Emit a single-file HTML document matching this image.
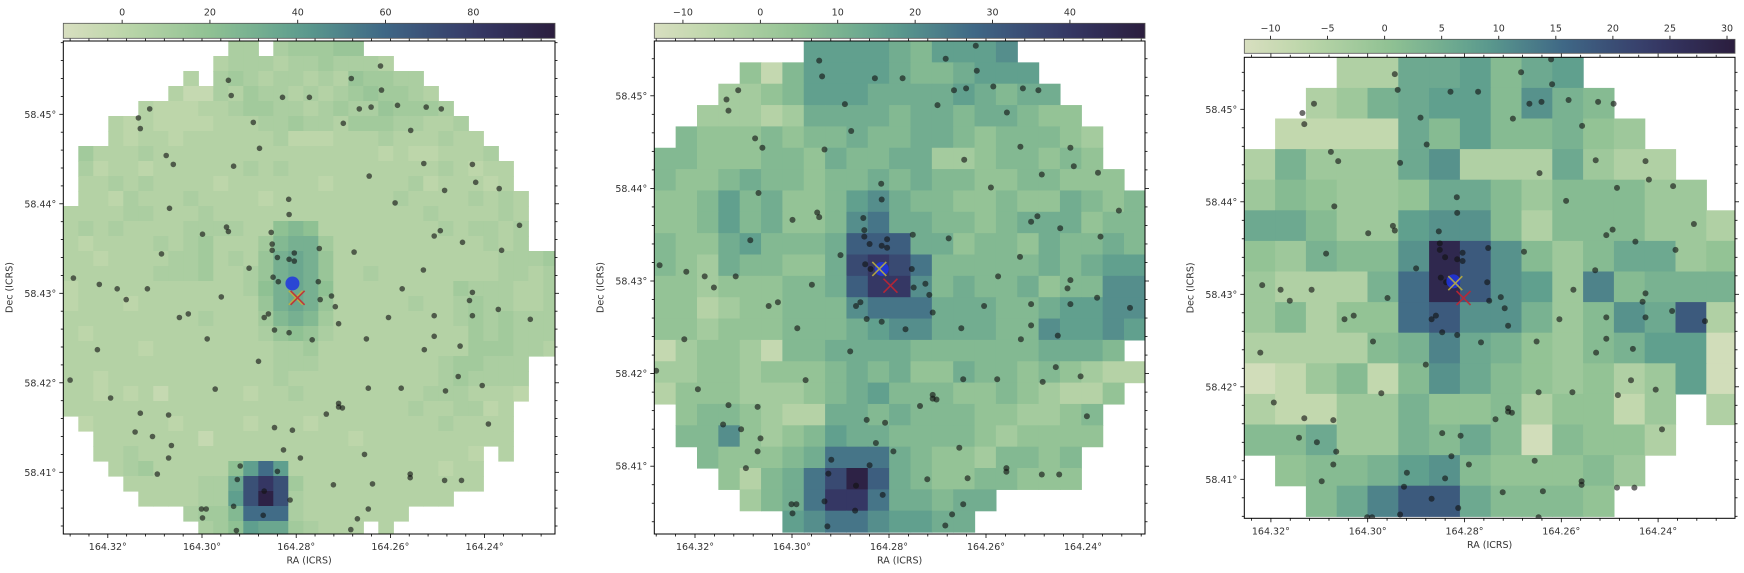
<!DOCTYPE html>
<html><head><meta charset="utf-8"><title>Heatmaps</title>
<style>
html,body{margin:0;padding:0;background:#fff;}
svg{display:block;}
text{font-family:"DejaVu Sans","Liberation Sans",sans-serif;fill:#333;}
</style></head>
<body>
<svg id="chart" width="1744" height="573" viewBox="0 0 1744 573" xmlns="http://www.w3.org/2000/svg"><defs id="defs"></defs></svg>
<script>
// ---------- DATA ----------
const levelKeys = "0123456789abcdefgh";
const p12Levels = [-12,-8,-4,0,4,8,12,16,20,25,30,35,40,48,58,70,82,95];
const p3Levels = [-11,-8,-5,-2,0,2,4,6,8,10,12,15,18,22,28,30,30,30];
const p1Rows = [
"...........55.566677",
"..........455545565554",
"........4.56545545476655",
".......422546554545676654",
".....433344566554565576665",
"...434333344455655466655445",
"...4344344444453334445444544",
".6444544444444444444434334445",
".53443444444545444444444454344",
".44545444434444443444445344434",
".443544454444344444444544445454",
"4444554445444444444444445444454",
"4545444455554489844444444545545",
"434444545644469aa64444444444545",
"44344445564547aba7444444444445556",
"44444455564457aba7445444444445545",
"34444444444458aba8444444446555445",
"34443444444447aba7444445445655445",
"444444444544469a96444444445656555",
"434444444444457875444444444656555",
"444443444444445564444444444666554",
"4444444444444455544444444566555",
"4434444444444454444444444565555",
"4434342444443445444444445554443",
"444444444444444444444445445534",
".34444434444344434444444454444",
"..4444444244444444434444444444",
"..44544444444444444444444443.4",
"...456444448cec4444444444344",
"....4444455bfgf6444444444444",
".....444455cfhf54444444444",
"........5669eee54444444",
".........568cbb65444.4"
];
const p2Rows = [
".......7777657778",
"....41577776556777",
"...3345777666676566",
"..333236666566566544",
".54445455655665455543",
"554445546556633455454",
"5445655455656554455444",
"44575644578655445446545",
"44575644589665545666455",
"544675556aaa66455465565",
"543655446bcb95555565677",
"443444556acc85655645588",
"44234455589996665567788",
"44344455567886665587787",
"1344315566665555556665",
"33443444565644655454322",
"2444333456755544543224",
".45543226656555443345",
".55843457665555434444",
"..544456999654435545",
"...42569bda654455444",
"....3569cc966566",
"......789987766"
];
const p3Rows = [
"...22778578",
"..2367885965",
".111175855643",
"26333792227322",
"354334775355533",
"7753389952555332",
"436559ec95357734",
"32226bec983a5666",
"35244bc9963597c2",
"222256a764356880",
"0135159754342380",
"21133644524413.2",
"55733657505442",
".455689544453",
"..57acc75554"
];
// source positions (RA, Dec in degrees)
const srcRA = [164.2621,164.2944,164.2683,164.2938,164.2619,164.2829,164.2772,164.2666,164.2641,164.2585,164.2524,164.2492,164.3111,164.3135,164.3131,164.2891,164.2700,164.2557,164.2878,164.3076,164.3061,164.2933,164.2529,164.2426,164.2645,164.2419,164.2369,164.2485,164.2816,164.2590,164.3069,164.2815,164.2948,164.2944,164.2999,164.2853,164.2507,164.2494,164.2447,164.2364,164.2851,164.2851,164.2840,164.2804,164.2815,164.2804,164.2751,164.2677,164.3086,164.2900,164.2530,164.2849,164.2838,164.2753,164.3273,164.3218,164.3180,164.3116,164.3161,164.2959,164.2749,164.2725,164.2717,164.2575,164.2426,164.2432,164.2371,164.2507,164.2426,164.2604,164.3048,164.3029,164.2868,164.2859,164.2710,164.2846,164.2815,164.2766,164.2989,164.2651,164.2507,164.2452,164.2528,164.3222,164.2880,164.2326,164.3280,164.2972,164.2647,164.2577,164.2483,164.2456,164.2405,164.3194,164.2710,164.2710,164.2702,164.2736,164.3131,164.3071,164.3142,164.3105,164.2846,164.2808,164.2392,164.3065,164.2827,164.3071,164.2791,164.2655,164.3095,164.2919,164.2840,164.2558,164.2558,164.2925,164.2721,164.2638,164.2485,164.2449,164.2868,164.2813,164.2933,164.3001,164.2991,164.2870,164.2647,164.2999,164.2927,164.2303,164.2670,164.2684];
const srcDec = [58.4554,58.4538,58.4540,58.4521,58.4527,58.4519,58.4519,58.4506,58.4508,58.4510,58.4508,58.4506,58.4506,58.4496,58.4484,58.4491,58.4490,58.4482,58.4462,58.4454,58.4444,58.4442,58.4445,58.4444,58.4431,58.4424,58.4417,58.4415,58.4405,58.4401,58.4395,58.4388,58.4374,58.4369,58.4366,58.4368,58.4364,58.4370,58.4357,58.4348,58.4355,58.4348,58.4340,58.4345,58.4338,58.4336,58.4350,58.4346,58.4344,58.4328,58.4326,58.4318,58.4313,58.4313,58.4317,58.4310,58.4305,58.4305,58.4293,58.4296,58.4293,58.4297,58.4285,58.4305,58.4301,58.4292,58.4282,58.4275,58.4275,58.4273,58.4273,58.4277,58.4273,58.4277,58.4266,58.4259,58.4256,58.4248,58.4249,58.4249,58.4252,58.4241,58.4237,58.4237,58.4224,58.4376,58.4203,58.4193,58.4194,58.4194,58.4191,58.4207,58.4197,58.4183,58.4177,58.4173,58.4172,58.4165,58.4166,58.4164,58.4145,58.4140,58.4150,58.4147,58.4154,58.4130,58.4125,58.4116,58.4116,58.4120,58.4098,58.4107,58.4101,58.4098,58.4094,58.4092,58.4086,58.4087,58.4091,58.4091,58.4079,58.4069,58.4062,58.4059,58.4059,58.4052,58.4059,58.4049,58.4035,58.4271,58.4048,58.4036];
// per-panel markers: [blue circle, yellow cross, red cross]
const markerRA = [[164.2808,164.2801,164.2797],[164.2815,164.2820,164.2797],[164.2823,164.2819,164.2802]];
const markerDec = [[58.4311,58.4295,58.4295],[58.4313,58.4313,58.4295],[58.4314,58.4312,58.4296]];
const raTicks = [164.32,164.30,164.28,164.26,164.24];
const decTicks = [58.41,58.42,58.43,58.44,58.45];
const cbTicks1 = [0,20,40,60,80];
const cbTicks2 = [-10,0,10,20,30,40];
const cbTicks3 = [-10,-5,0,5,10,15,20,25,30];

// ---------- LAYOUT / STYLE ----------
const panels = [
 {name:'left',  rows:p1Rows, levels:p12Levels, fx:63.3, fy:41, fw:491.7, fh:493, cw:15, ch:15, vmin:-13.4, vmax:98.6, cby:23.3, cbh:15, cbTicks:cbTicks1,
  ra0:202, raS:4710, dec0:293.3, decS:8950, dotR:2.8},
 {name:'middle',rows:p2Rows, levels:p12Levels, fx:654.3, fy:41, fw:490.7, fh:493, cw:21.35, ch:21.35, vmin:-13.7, vmax:49.7, cby:23.3, cbh:15, cbTicks:cbTicks2,
  ra0:792, raS:4850, dec0:281, decS:9260, dotR:3},
 {name:'right', rows:p3Rows, levels:p3Levels, fx:1244.3, fy:57.3, fw:490.7, fh:461, cw:30.8, ch:30.6, vmin:-12.3, vmax:30.7, cby:39.3, cbh:14, cbTicks:cbTicks3,
  ra0:1367.7, raS:4840, dec0:294.3, decS:9250, dotR:3}
];
const cmapStops = [[0,[216,223,192]],[0.12,[189,214,170]],[0.3,[143,193,147]],[0.48,[94,158,142]],[0.65,[63,104,134]],[0.83,[54,58,104]],[1,[43,29,62]]];
function cmap(t){
  t=Math.max(0,Math.min(1,t));
  for(let i=1;i<cmapStops.length;i++){
    if(t<=cmapStops[i][0]){
      const a=cmapStops[i-1],b=cmapStops[i],f=(t-a[0])/(b[0]-a[0]);
      const c=a[1].map((v,k)=>Math.round(v+(b[1][k]-v)*f));
      return 'rgb('+c.join(',')+')';
    }
  }
  return 'rgb(43,29,62)';
}
const NS='http://www.w3.org/2000/svg';
const svg=document.getElementById('chart');
const defs=document.getElementById('defs');
function mk(tag, attrs, parent){
  const e=document.createElementNS(NS,tag);
  for(const k in attrs) e.setAttribute(k,attrs[k]);
  (parent||svg).appendChild(e);
  return e;
}
function fmt(v){return v<0?'\u2212'+Math.abs(v):String(v);}

panels.forEach((p,pi)=>{
  const g=mk('g',{});
  
  
  const xRA = ra => p.ra0 + (164.30-ra)*p.raS;
  const yDec = dec => p.dec0 - (dec-58.43)*p.decS;
  const cbX = v => p.fx + (v-p.vmin)/(p.vmax-p.vmin)*p.fw;

  // clip
  const cp=mk('clipPath',{id:'clip'+pi},defs);
  mk('rect',{x:p.fx,y:p.fy,width:p.fw,height:p.fh},cp);

  // heatmap
  const hm=mk('g',{'clip-path':'url(#clip'+pi+')'},g);
  
  
  p.rows.forEach((row,r)=>{
    for(let c=0;c<row.length;c++){
      const k=levelKeys.indexOf(row[c]);
      if(k<0) continue;
      const v=p.levels[k];
      const cell=mk('rect',{x:(p.fx+c*p.cw).toFixed(2),y:(p.fy+r*p.ch).toFixed(2),width:(p.cw+0.6).toFixed(2),height:(p.ch+0.6).toFixed(2),fill:cmap((v-p.vmin)/(p.vmax-p.vmin))},hm);
      
      
    }
  });

  // sources
  const dots=mk('g',{'clip-path':'url(#clip'+pi+')'},g);
  
  
  for(let i=0;i<srcRA.length;i++){
    const d=mk('circle',{cx:xRA(srcRA[i]).toFixed(1),cy:yDec(srcDec[i]).toFixed(1),r:p.dotR,fill:'#111','fill-opacity':0.62},dots);
    
    
  }

  // markers
  const mr=markerRA[pi], md=markerDec[pi];
  const bc=mk('circle',{cx:xRA(mr[0]),cy:yDec(md[0]),r:7,fill:'#1f35e0','fill-opacity':0.85},g);
  
  
  [[1,'#c2b43c'],[2,'#c8232f']].forEach(([j,col])=>{
    const cx=xRA(mr[j]), cy=yDec(md[j]), s=7;
    const x=mk('path',{d:`M${cx-s},${cy-s}L${cx+s},${cy+s}M${cx-s},${cy+s}L${cx+s},${cy-s}`,stroke:col,'stroke-width':1.6,'stroke-opacity':0.85,fill:'none'},g);
    
    
  });

  // frame
  const fr=mk('rect',{x:p.fx,y:p.fy,width:p.fw,height:p.fh,fill:'none',stroke:'#000','stroke-width':1},g);
  
  

  // ticks
  const tk=mk('g',{stroke:'#000','stroke-width':0.8},g);
  
  
  for(let m=164.216;m<=164.336;m+=0.004){
    const x=xRA(m); if(x<p.fx||x>p.fx+p.fw) continue;
    const major=raTicks.some(t=>Math.abs(t-m)<1e-6);
    const L=major?4:2.5;
    mk('line',{x1:x,x2:x,y1:p.fy+p.fh,y2:p.fy+p.fh+L},tk);
    mk('line',{x1:x,x2:x,y1:p.fy,y2:p.fy-L},tk);
  }
  for(let m=58.400;m<=58.460;m+=0.002){
    const y=yDec(m); if(y<p.fy||y>p.fy+p.fh) continue;
    const major=decTicks.some(t=>Math.abs(t-m)<1e-6);
    const L=major?4:2.5;
    mk('line',{x1:p.fx,x2:p.fx-L,y1:y,y2:y},tk);
    mk('line',{x1:p.fx+p.fw,x2:p.fx+p.fw+L,y1:y,y2:y},tk);
  }
  const xlY = p.fy+p.fh+16;
  raTicks.forEach(t=>{
    const tx=mk('text',{x:xRA(t),y:xlY,'font-size':9.5,'text-anchor':'middle'},g);
    tx.textContent=t.toFixed(2)+'\u00b0';
    
    
  });
  decTicks.forEach(t=>{
    const ty=mk('text',{x:p.fx-7,y:yDec(t)+3.5,'font-size':9.5,'text-anchor':'end'},g);
    ty.textContent=t.toFixed(2)+'\u00b0';
    
    
  });
  const xt=mk('text',{x:p.fx+p.fw/2,y:p.fy+p.fh+29.5,'font-size':9.5,'text-anchor':'middle'},g);
  xt.textContent='RA (ICRS)';
  
  
  const yx=p.fx-51, yy=p.fy+p.fh/2;
  const yt=mk('text',{x:yx,y:yy,'font-size':9.5,'text-anchor':'middle',transform:`rotate(-90 ${yx} ${yy})`},g);
  yt.textContent='Dec (ICRS)';
  
  

  // colorbar
  const gr=mk('linearGradient',{id:'cbg'+pi,x1:0,x2:1,y1:0,y2:0},defs);
  for(let i=0;i<=20;i++){ mk('stop',{offset:i/20,'stop-color':cmap(i/20)},gr); }
  const cb=mk('rect',{x:p.fx,y:p.cby,width:p.fw,height:p.cbh,fill:'url(#cbg'+pi+')',stroke:'#555','stroke-width':0.8},g);
  
  
  p.cbTicks.forEach(t=>{
    const x=cbX(t);
    mk('line',{x1:x,x2:x,y1:p.cby,y2:p.cby-3.5,stroke:'#000','stroke-width':0.8},g);
    const ct=mk('text',{x:x,y:p.cby-8,'font-size':9.5,'text-anchor':'middle'},g);
    ct.textContent=fmt(t);
    
    
  });
});
</script>
</body></html>
